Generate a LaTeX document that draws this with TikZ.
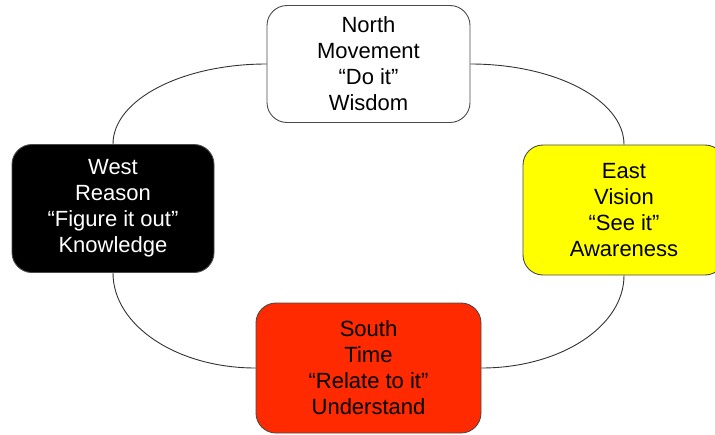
\documentclass[tikz,border=0pt]{standalone}
\usepackage{fontspec}
\setmainfont{Liberation Sans}
\usetikzlibrary{calc}
\definecolor{dirred}{HTML}{FF2A00}
\definecolor{diryellow}{HTML}{FFFF00}
\definecolor{edge}{HTML}{4A4A4A}
\begin{document}
\begin{tikzpicture}[x=1pt,y=-1pt,
  dirbox/.style={draw=edge, line width=0.9pt, rounded corners=20pt,
    align=center, inner sep=0pt,
    font=\fontsize{22}{26}\selectfont},
  link/.style={draw=black!80, line width=0.9pt}]
  \useasboundingbox (0,0) rectangle (715,434);
  % the four directions
  \node[dirbox, fill=white, minimum width=203pt, minimum height=117pt]
    (north) at (368.5,64) {North\\Movement\\“Do it”\\Wisdom};
  \node[dirbox, fill=black, text=white, minimum width=202pt, minimum height=128pt]
    (west) at (113,208.5) {West\\Reason\\“Figure it out”\\Knowledge};
  \node[dirbox, fill=diryellow, minimum width=202pt, minimum height=130pt]
    (east) at (624,210) {East\\Vision\\“See it”\\Awareness};
  \node[dirbox, fill=dirred, minimum width=225pt, minimum height=130pt]
    (south) at (368.5,368) {South\\Time\\“Relate to it”\\Understand};
  % quarter-ellipse links between neighbouring directions
  \newcommand{\quarterlink}[2]{%
    \draw[link] (#1) .. controls ($(#1)!0.5523!(#2 |- #1)$)
      and ($(#2)!0.5523!(#2 |- #1)$) .. (#2);}
  \quarterlink{north.west}{west.north}
  \quarterlink{north.east}{east.north}
  \quarterlink{south.west}{west.south}
  \quarterlink{south.east}{east.south}
\end{tikzpicture}
\end{document}
